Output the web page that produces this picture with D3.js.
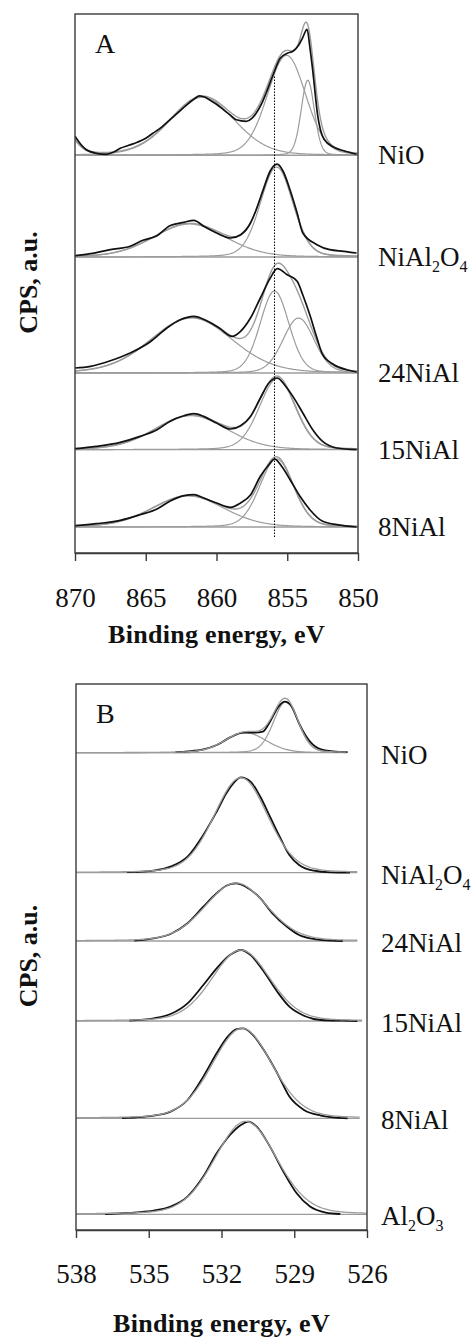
<!DOCTYPE html>
<html>
<head>
<meta charset="utf-8">
<script src="https://cdn.jsdelivr.net/npm/d3@7"></script>
<style>
  html, body { margin: 0; padding: 0; background: #fff; }
  svg { display: block; }
  text { font-family: "Liberation Serif", "Times New Roman", serif; fill: #111; }
</style>
</head>
<body>
<svg id="chart" width="472" height="1339"></svg>
<script>
// ---- Ni 2p3/2 region (panel A) ----
const energyTicksA = [870, 865, 860, 855, 850];
const samplesA = ["NiO", "NiAl2O4", "24NiAl", "15NiAl", "8NiAl"];
// vertical stacking offset of each spectrum (a.u.)
const stackOffsetsA = [397.7, 296, 180, 103.3, 26];
// measured spectra: [binding energy eV, intensity a.u.]
const ni2pMeasured = [
  [[870,19],[869.6,11],[869.2,5.5],[868.5,2],[867.8,1],[867.3,3],[866.8,7],[866.2,10],[865.6,13],[865,17],[864.5,22],[863.9,28],[863.3,35.5],[862.7,43],[862.1,50.5],[861.6,56],[861.2,59.5],[860.8,58],[860.5,55.5],[860,51],[859.5,45.5],[859,40],[858.6,35.5],[857.9,34],[857.5,37],[857.2,42],[856.8,52],[856.5,62],[856,80.5],[855.5,97],[855,102],[854.6,104],[854.2,110],[853.9,118],[853.6,126],[853.4,108],[853.2,85],[852.85,40],[852.4,16],[851.7,8],[851,4.5],[850.1,1]],
  [[870,1.3],[868.9,3.3],[867.5,7.3],[866.1,10.7],[865.2,16.7],[864.2,21.3],[863.3,31.3],[862.3,34.7],[861.6,36.7],[860.9,30.7],[860,24],[859,19],[858.3,22.3],[857.6,34],[857.2,47],[856.7,67],[856.2,86],[855.7,93],[855.3,86],[854.8,67],[854.3,44],[853.9,24],[852.9,12.3],[852,7.3],[851,5.7],[850.1,4]],
  [[870,5],[868.9,6.7],[867.5,12.3],[866.1,20],[864.7,31],[863.5,45],[862.6,53],[861.6,56.7],[860.7,52.3],[859.8,45],[858.9,36.7],[858.3,41.7],[857.6,55],[856.9,75],[856.2,95],[855.7,104.3],[855,98.3],[854.3,91.7],[853.9,78],[853.4,58],[852.9,35],[852.5,18.3],[851.7,8.3],[850.8,3.3],[850.1,1]],
  [[870,1],[868.5,3.3],[866.8,7.3],[865.4,13.3],[864.2,20],[863.3,28.3],[862.3,34],[861.6,36],[860.9,33.3],[860,26.7],[859,20.7],[858.3,24],[857.6,33.3],[856.9,51.7],[856.3,66.7],[855.7,71.7],[855.2,65],[854.6,53.3],[853.9,36.7],[853.2,20],[852.5,8.3],[851.5,1.7],[850.1,0]],
  [[870,1.3],[868.5,3.3],[866.8,6.7],[865.4,12.3],[864.2,18],[863.3,25.7],[862.3,31.3],[861.6,32.3],[860.9,29],[860,24],[859,19.7],[858.3,24],[857.6,32],[856.9,50.7],[856.3,62.3],[855.9,68],[855.4,60.7],[854.8,47.3],[854.1,30.7],[853.4,17.3],[852.5,5.7],[851.5,2.3],[850.1,0]]
];
// fitted components: [centre eV, height a.u., FWHM eV]
const ni2pPeaks = [
  [[871.6, 42, 2.6], [861.0, 58, 5.4], [855.05, 100, 3.2], [853.55, 75, 1.1]],
  [[861.9, 33, 6.0], [855.75, 90, 2.7]],
  [[861.75, 55, 6.8], [855.9, 82, 2.4], [854.2, 55, 2.6]],
  [[861.8, 34, 6.0], [855.7, 71, 3.0]],
  [[862.0, 31, 6.0], [855.75, 68, 2.8]]
];
const ni2pReferenceEnergy = 855.9;
const ni2pReferenceSpan = [16, 477];

// ---- O 1s region (panel B) ----
const energyTicksB = [538, 535, 532, 529, 526];
const samplesB = ["NiO", "NiAl2O4", "24NiAl", "15NiAl", "8NiAl", "Al2O3"];
const stackOffsetsB = [477.3, 357.3, 289, 209, 111.7, 15.7];
const o1sMeasured = [
  [[533.9,0.5],[533.4,1.3],[532.75,3.3],[532.2,7.7],[531.65,15.3],[531.1,20],[530.6,20],[530.3,21],[530,31],[529.7,44.3],[529.4,51],[529.1,46],[528.8,29.3],[528.35,11],[527.9,3.3],[527.4,1.3],[526.8,0.5]],
  [[535.9,0.5],[535.3,1],[534.8,2],[534.1,6],[533.4,16],[532.75,37.7],[532.2,61],[531.8,79.3],[531.45,91],[531.2,95.3],[530.8,91],[530.4,76],[530,56],[529.6,36],[529.2,17.7],[528.8,7.7],[528.2,2],[527.5,0.3],[526.7,0]],
  [[535.6,0.5],[534.8,2.7],[534.1,7],[533.4,17.7],[532.75,34.3],[532.2,47.7],[531.8,55.3],[531.4,57.7],[531,54.3],[530.4,42.7],[529.9,27.7],[529.3,14.3],[528.8,6],[528.1,1.7],[527.5,0.3],[527,0]],
  [[535.8,0.5],[534.8,2.7],[534.1,7],[533.4,17.7],[532.75,36],[532.2,52.7],[531.65,66],[531.2,71],[530.8,66],[530.3,51],[529.7,29.3],[529.2,14.3],[528.6,5.3],[527.9,1],[527,0.3],[526.4,0]],
  [[536.1,0.3],[535.5,1],[534.8,2.7],[534.1,6.7],[533.4,18.3],[532.75,41.7],[532.2,65],[531.8,80],[531.4,89],[531.1,90],[530.7,83.3],[530.3,70],[529.7,45],[529.2,21.7],[528.6,8.3],[527.9,2.7],[527.3,0.7],[526.8,0]],
  [[536.8,0.3],[536.2,1],[535.5,2],[534.8,3.7],[534.1,7.7],[533.4,17.7],[532.75,37.7],[532.2,61],[531.65,79.3],[531.2,89.3],[530.9,92.7],[530.55,87.7],[530,67.7],[529.45,42.7],[528.9,21],[528.35,7.7],[527.7,1.7],[527.1,0.3]]
];
const o1sPeaks = [
  [[531.0, 20, 2.0], [529.35, 51, 1.2]],
  [[531.2, 95, 2.6]],
  [[531.4, 58, 3.0]],
  [[531.2, 71, 2.8]],
  [[531.15, 90, 2.9]],
  [[531.0, 93, 3.0]]
];
// low-energy end of each fitted trace
const o1sFitEnd = [526.85, 526.4, 526.4, 526.2, 526.3, 526.0];

// Gaussian-Lorentzian line shape of one fitted component
const LORENTZ_MIX = 0.15;
function lineShape(E, peak) {
  const [c, h, w] = peak;
  const d = (E - c) / w;
  return h * ((1 - LORENTZ_MIX) * Math.exp(-4 * Math.LN2 * d * d) + LORENTZ_MIX / (1 + 4 * d * d));
}

const svg = d3.select("#chart");
const GREY = "#9c9c9c";
const INK = "#111";

function appendFormula(sel, label) {
  // digits that follow a letter are written as subscripts
  let parts = [];
  for (let i = 0; i < label.length; i++) {
    const ch = label[i];
    const isDigit = /\d/.test(ch);
    const prev = parts.length ? parts[parts.length - 1] : null;
    const sub = isDigit && i > 0 && (/[A-Za-z]/.test(label[i - 1]) || (prev && prev.sub));
    if (prev && prev.sub === sub) prev.t += ch;
    else parts.push({ t: ch, sub });
  }
  let shifted = false;
  parts.forEach(p => {
    const ts = sel.append("tspan").text(p.t);
    if (p.sub) { ts.attr("font-size", 16).attr("dy", 6); shifted = true; }
    else if (shifted) { ts.attr("dy", -6); shifted = false; }
  });
}

function drawPanel(cfg) {
  const g = svg.append("g");
  const x = d3.scaleLinear().domain(cfg.xDomain).range([cfg.left, cfg.right]);
  const y = d3.scaleLinear().domain([0, cfg.yMax]).range([cfg.bottom, cfg.top]);

  const clipId = "clip" + cfg.name;
  svg.append("clipPath").attr("id", clipId)
    .append("rect").attr("x", cfg.left).attr("y", cfg.top)
    .attr("width", cfg.right - cfg.left).attr("height", cfg.bottom - cfg.top);
  const plot = g.append("g").attr("clip-path", `url(#${clipId})`);

  cfg.samples.forEach((name, i) => {
    const off = cfg.offsets[i];
    const peaks = cfg.peaks[i];
    const eEnd = cfg.fitEnd ? cfg.fitEnd[i] : cfg.xDomain[1];
    const grid = d3.range(cfg.xDomain[0], eEnd - 0.001, -0.05).concat([eEnd]);
    const line = d3.line().x(d => x(d[0])).y(d => y(off + d[1]));

    // flat background
    plot.append("path").attr("d", line([[cfg.xDomain[0], 0], [eEnd, 0]]))
      .attr("fill", "none").attr("stroke", GREY).attr("stroke-width", 1.3);

    // individual components
    if (peaks.length > 1) {
      peaks.forEach(p => {
        plot.append("path").attr("d", line(grid.map(E => [E, lineShape(E, p)])))
          .attr("fill", "none").attr("stroke", GREY).attr("stroke-width", 1.2);
      });
    }

    const envelope = grid.map(E => [E, d3.sum(peaks, p => lineShape(E, p))]);
    const measuredLine = d3.line().curve(d3.curveMonotoneX)
      .x(d => x(d[0])).y(d => y(off + d[1]));

    if (cfg.inkOnTop) {
      plot.append("path").attr("d", line(envelope))
        .attr("fill", "none").attr("stroke", GREY).attr("stroke-width", 1.4);
      plot.append("path").attr("d", measuredLine(cfg.measured[i]))
        .attr("fill", "none").attr("stroke", INK).attr("stroke-width", 1.7)
        .attr("stroke-linejoin", "round");
    } else {
      plot.append("path").attr("d", measuredLine(cfg.measured[i]))
        .attr("fill", "none").attr("stroke", INK).attr("stroke-width", 1.8)
        .attr("stroke-linejoin", "round");
      plot.append("path").attr("d", line(envelope))
        .attr("fill", "none").attr("stroke", GREY).attr("stroke-width", 1.3);
    }

    // sample name at the right of the frame
    const t = g.append("text").attr("x", cfg.right + cfg.labelGap)
      .attr("y", y(off) + cfg.labelDrop).attr("font-size", 27);
    appendFormula(t, name);
  });

  if (cfg.reference) {
    g.append("line")
      .attr("x1", x(cfg.reference)).attr("x2", x(cfg.reference))
      .attr("y1", y(cfg.referenceSpan[0])).attr("y2", y(cfg.referenceSpan[1]))
      .attr("stroke", "#000").attr("stroke-width", 1).attr("stroke-dasharray", "1.5,1.5");
  }

  // frame
  g.append("rect").attr("x", cfg.left).attr("y", cfg.top)
    .attr("width", cfg.right - cfg.left).attr("height", cfg.bottom - cfg.top)
    .attr("fill", "none").attr("stroke", "#3a3a3a").attr("stroke-width", 1.4);

  // energy axis
  const axis = g.append("g").attr("transform", `translate(0,${cfg.bottom})`)
    .call(d3.axisBottom(x).tickValues(cfg.ticks).tickSize(8).tickSizeOuter(0)
      .tickPadding(cfg.tickPad).tickFormat(d3.format("d")));
  axis.select(".domain").attr("stroke", "#3a3a3a").attr("stroke-width", 1.4);
  axis.selectAll(".tick line").attr("stroke", "#3a3a3a").attr("stroke-width", 1.4);
  axis.selectAll(".tick text").attr("font-size", 27)
    .attr("font-family", "'Liberation Serif', 'Times New Roman', serif").attr("fill", INK);

  g.append("text").attr("x", (cfg.left + cfg.right) / 2).attr("y", cfg.titleY)
    .attr("text-anchor", "middle").attr("font-size", 26).attr("font-weight", "bold")
    .attr("letter-spacing", 0.3)
    .text("Binding energy, eV");

  g.append("text")
    .attr("transform", `translate(37,${(cfg.top + cfg.bottom) / 2 + cfg.yTitleShift}) rotate(-90)`)
    .attr("text-anchor", "middle").attr("font-size", 26).attr("font-weight", "bold")
    .text("CPS, a.u.");

  g.append("text").attr("x", cfg.left + 20).attr("y", cfg.top + 39)
    .attr("font-size", 28).text(cfg.name);
}

drawPanel({
  name: "A", xDomain: [870, 850], left: 75, right: 358, top: 14, bottom: 553, yMax: 539,
  samples: samplesA, offsets: stackOffsetsA, measured: ni2pMeasured, peaks: ni2pPeaks,
  ticks: energyTicksA, tickPad: 27, titleY: 643, labelGap: 20, labelDrop: 9,
  reference: ni2pReferenceEnergy, referenceSpan: ni2pReferenceSpan, inkOnTop: true,
  yTitleShift: -1
});

drawPanel({
  name: "B", xDomain: [538, 526], left: 76, right: 367, top: 684, bottom: 1230, yMax: 546,
  samples: samplesB, offsets: stackOffsetsB, measured: o1sMeasured, peaks: o1sPeaks,
  fitEnd: o1sFitEnd,
  ticks: energyTicksB, tickPad: 26, titleY: 1332, labelGap: 14, labelDrop: 11,
  inkOnTop: false, yTitleShift: -1
});
</script>
</body>
</html>
